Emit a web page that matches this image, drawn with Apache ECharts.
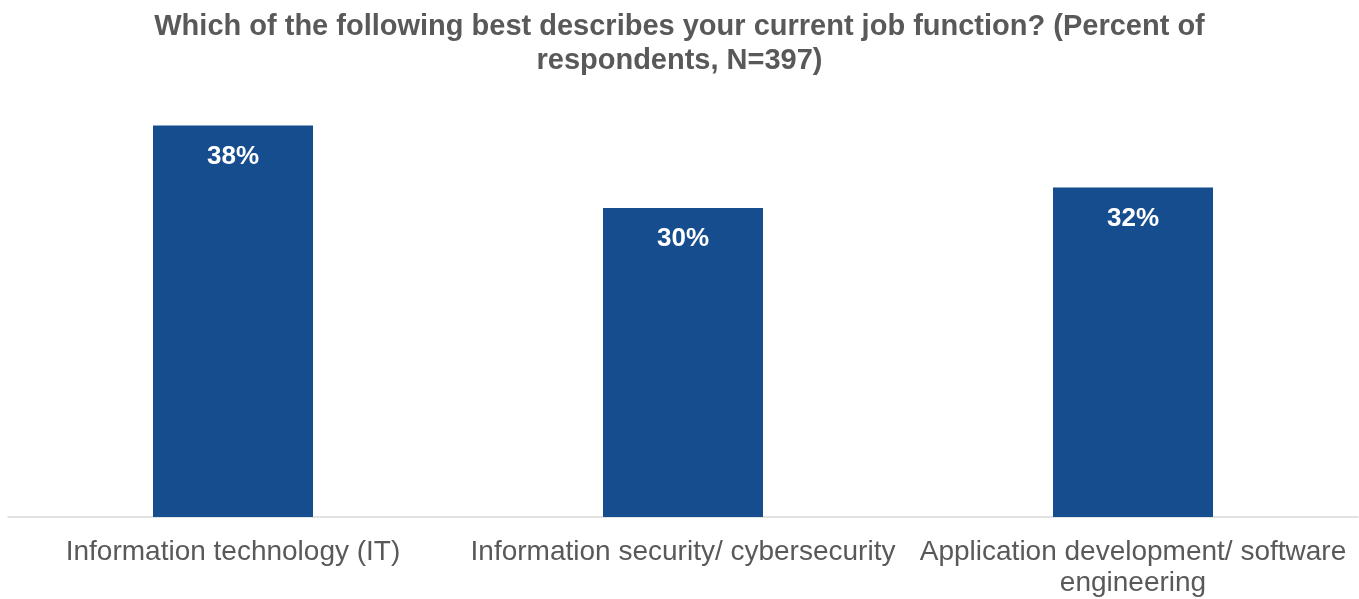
<!DOCTYPE html>
<html>
<head>
<meta charset="utf-8">
<script src="https://cdn.jsdelivr.net/npm/echarts@6/dist/echarts.min.js"></script>
<style>html,body{margin:0;padding:0;background:#fff;}#c{width:1359px;height:599px;}</style>
</head>
<body>
<div id="c"></div>
<script>
const titleText = "Which of the following best describes your current job function? (Percent of\nrespondents, N=397)";
const categories = ["Information technology (IT)", "Information security/ cybersecurity", "Application development/ software\nengineering"];
const values = [38, 30, 32];

const chart = echarts.init(document.getElementById('c'));
chart.setOption({
  animation: false,
  title: {
    text: titleText,
    left: 'center',
    top: 5,
    textStyle: {fontFamily: 'Liberation Sans, Arial, sans-serif', fontSize: 29, fontWeight: 'bold', color: '#595959', lineHeight: 34}
  },
  grid: {left: 8, right: 1, top: 105, bottom: 82, containLabel: false},
  xAxis: {
    type: 'category',
    data: categories,
    axisLine: {lineStyle: {color: '#d9d9d9', width: 1.5}},
    axisTick: {show: false},
    axisLabel: {fontFamily: 'Liberation Sans, Arial, sans-serif', fontSize: 28, color: '#595959', lineHeight: 31, margin: 20, interval: 0}
  },
  yAxis: {type: 'value', min: 0, max: 40, show: false, splitLine: {show: false}},
  series: [{
    type: 'bar',
    data: values,
    barWidth: 160,
    itemStyle: {color: '#154D8E'},
    label: {
      show: true,
      position: 'insideTop',
      distance: 18,
      formatter: '{c}%',
      fontFamily: 'Liberation Sans, Arial, sans-serif',
      fontSize: 26,
      fontWeight: 'bold',
      color: '#ffffff'
    }
  }]
});
</script>
</body>
</html>
